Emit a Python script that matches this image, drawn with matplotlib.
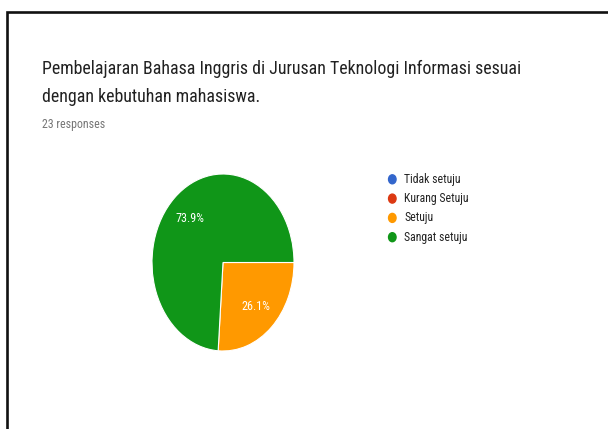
import matplotlib
matplotlib.use('Agg')
import matplotlib.pyplot as plt
from matplotlib.patches import Ellipse

# Data
categories = ['Tidak setuju', 'Kurang Setuju', 'Setuju', 'Sangat setuju']
counts = [0, 0, 6, 17]
colors = ['#3366CC', '#DC3912', '#FF9900', '#109618']
title_lines = ['Pembelajaran Bahasa Inggris di Jurusan Teknologi Informasi sesuai',
               'dengan kebutuhan mahasiswa.']
subtitle = '23 responses'

plt.rcParams['font.family'] = ['Roboto Condensed', 'Liberation Sans Narrow', 'Roboto', 'DejaVu Sans']

W, H = 608, 429
fig = plt.figure(figsize=(W / 100, H / 100), dpi=100)
fig.patch.set_facecolor('white')

# overlay in pixel coordinates for frame and legend markers
bg = fig.add_axes([0, 0, 1, 1])
bg.set_xlim(0, W)
bg.set_ylim(H, 0)
bg.axis('off')
bg.plot([7, 7, W], [H, 12, 12], color='#111111', lw=1.9, solid_joinstyle='miter')

# title
fig.text(42 / W, 1 - 74 / H, title_lines[0], fontsize=12.9, color='#212121', va='baseline')
fig.text(42 / W, 1 - 101.5 / H, title_lines[1], fontsize=12.9, color='#212121', va='baseline')
fig.text(42 / W, 1 - 128 / H, subtitle, fontsize=8.6, color='#757575', va='baseline')

# pie (slightly squeezed, like the screenshot)
ax = fig.add_axes([152 / W, (H - 351) / H, 142 / W, 177 / H])
idx = [i for i, c in enumerate(counts) if c > 0]
wedges, texts, autotexts = ax.pie([counts[i] for i in idx], colors=[colors[i] for i in idx],
                                  startangle=0, counterclock=False,
                                  autopct='%.1f%%', pctdistance=0.68,
                                  wedgeprops=dict(edgecolor='white', linewidth=0.8),
                                  textprops=dict(color='white', fontsize=8.7))
ax.set_aspect('auto')
ax.set_xlim(-1, 1)
ax.set_ylim(-1, 1)

# legend
for i, (cat, col) in enumerate(zip(categories, colors)):
    y = 179.3 + i * 19.3
    bg.add_patch(Ellipse((392.3, y), 7.5, 9, color=col))
    bg.text(404.5, y, cat, fontsize=8.5, color='#222222', va='center', ha='left')

fig.savefig('out.png', dpi=100)
